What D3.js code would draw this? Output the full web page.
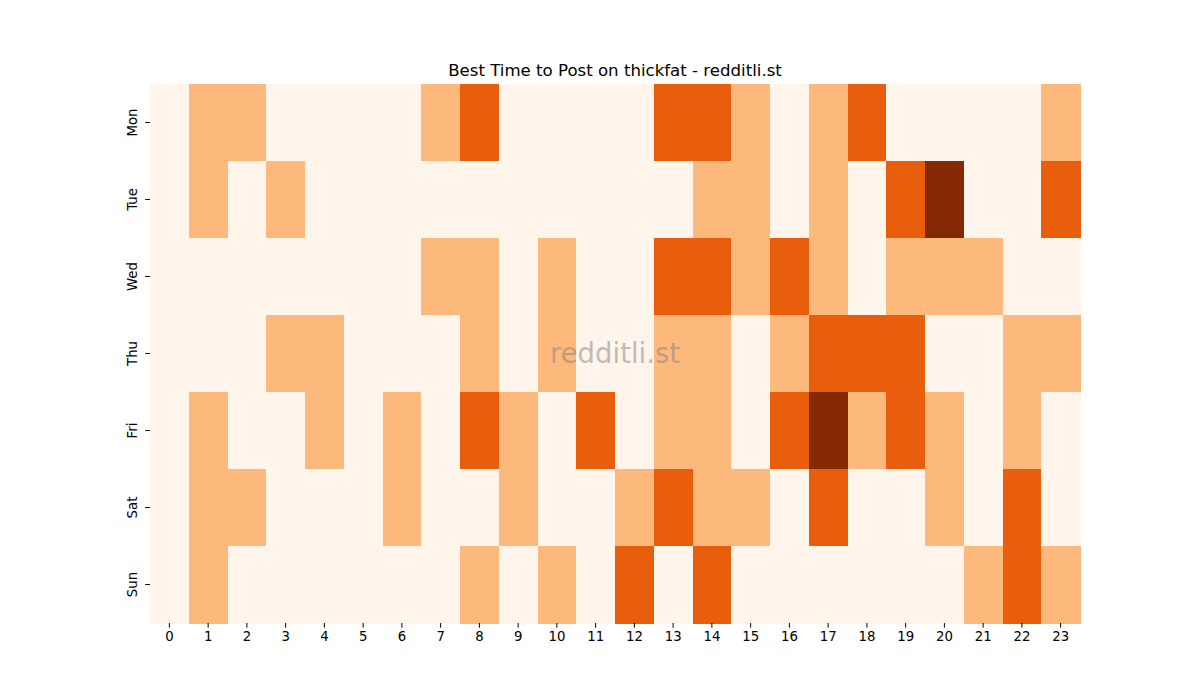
<!DOCTYPE html>
<html>
<head>
<meta charset="utf-8">
<script src="https://cdn.jsdelivr.net/npm/d3@7"></script>
<style>
  body { margin: 0; background: #fff; }
</style>
</head>
<body>
<svg id="heatmap" width="1200" height="700"></svg>
<script>
const days = ["Mon", "Tue", "Wed", "Thu", "Fri", "Sat", "Sun"];
const hours = d3.range(24);

// one row per day, one value per hour (0..3)
const mon = [0,1,1,0,0,0,0,1,2,0,0,0,0,2,2,1,0,1,2,0,0,0,0,1];
const tue = [0,1,0,1,0,0,0,0,0,0,0,0,0,0,1,1,0,1,0,2,3,0,0,2];
const wed = [0,0,0,0,0,0,0,1,1,0,1,0,0,2,2,1,2,1,0,1,1,1,0,0];
const thu = [0,0,0,1,1,0,0,0,1,0,1,0,0,1,1,0,1,2,2,2,0,0,1,1];
const fri = [0,1,0,0,1,0,1,0,2,1,0,2,0,1,1,0,2,3,1,2,1,0,1,0];
const sat = [0,1,1,0,0,0,1,0,0,1,0,0,1,2,1,1,0,2,0,0,1,0,2,0];
const sun = [0,1,0,0,0,0,0,0,1,0,1,0,2,0,2,0,0,0,0,0,0,1,2,1];
const rows = [mon, tue, wed, thu, fri, sat, sun];

const svg = d3.select("#heatmap");
const margin = {top: 84, right: 120, bottom: 77, left: 150};
const width = +svg.attr("width") - margin.left - margin.right;
const height = +svg.attr("height") - margin.top - margin.bottom;
const fontFamily = "DejaVu Sans, sans-serif";

const cells = [];
rows.forEach((r, i) => r.forEach((v, h) => cells.push({day: days[i], hour: h, value: v})));

const x = d3.scaleBand().domain(hours).range([0, width]);
const y = d3.scaleBand().domain(days).range([0, height]);
// sampled from the Oranges colormap
const color = d3.scaleOrdinal()
  .domain([0, 1, 2, 3])
  .range(["#fff5eb", "#fdb87c", "#e95e0d", "#842904"]);

const g = svg.append("g").attr("transform", `translate(${margin.left},${margin.top})`);

g.selectAll("rect")
  .data(cells)
  .join("rect")
    .attr("x", d => x(d.hour))
    .attr("y", d => y(d.day))
    .attr("width", x.bandwidth() + 0.5)
    .attr("height", y.bandwidth() + 0.5)
    .attr("fill", d => color(d.value))
    .attr("shape-rendering", "crispEdges");

// axes
const gx = g.append("g")
  .attr("transform", `translate(0,${height})`)
  .call(d3.axisBottom(x).tickSize(4.7).tickPadding(4));
const gy = g.append("g")
  .call(d3.axisLeft(y).tickSize(4.7).tickPadding(4));

[gx, gy].forEach(a => {
  a.select(".domain").remove();
  a.selectAll("text").attr("font-family", fontFamily).attr("font-size", 13.3).attr("fill", "#000");
  a.selectAll("line").attr("stroke", "#000").attr("stroke-width", 1);
});

gy.selectAll(".tick text")
  .attr("text-anchor", "middle")
  .attr("transform", "rotate(-90)")
  .attr("x", 0)
  .attr("y", -17.5)
  .attr("dy", "0.35em");

// title
svg.append("text")
  .attr("x", margin.left + width / 2)
  .attr("y", 76)
  .attr("text-anchor", "middle")
  .attr("font-family", fontFamily)
  .attr("font-size", 16.6)
  .text("Best Time to Post on thickfat - redditli.st");

// watermark
svg.append("text")
  .attr("x", margin.left + width / 2)
  .attr("y", 353)
  .attr("text-anchor", "middle")
  .attr("dominant-baseline", "central")
  .attr("font-family", fontFamily)
  .attr("font-size", 27.5)
  .attr("fill", "#808080")
  .attr("fill-opacity", 0.5)
  .text("redditli.st");
</script>
</body>
</html>
